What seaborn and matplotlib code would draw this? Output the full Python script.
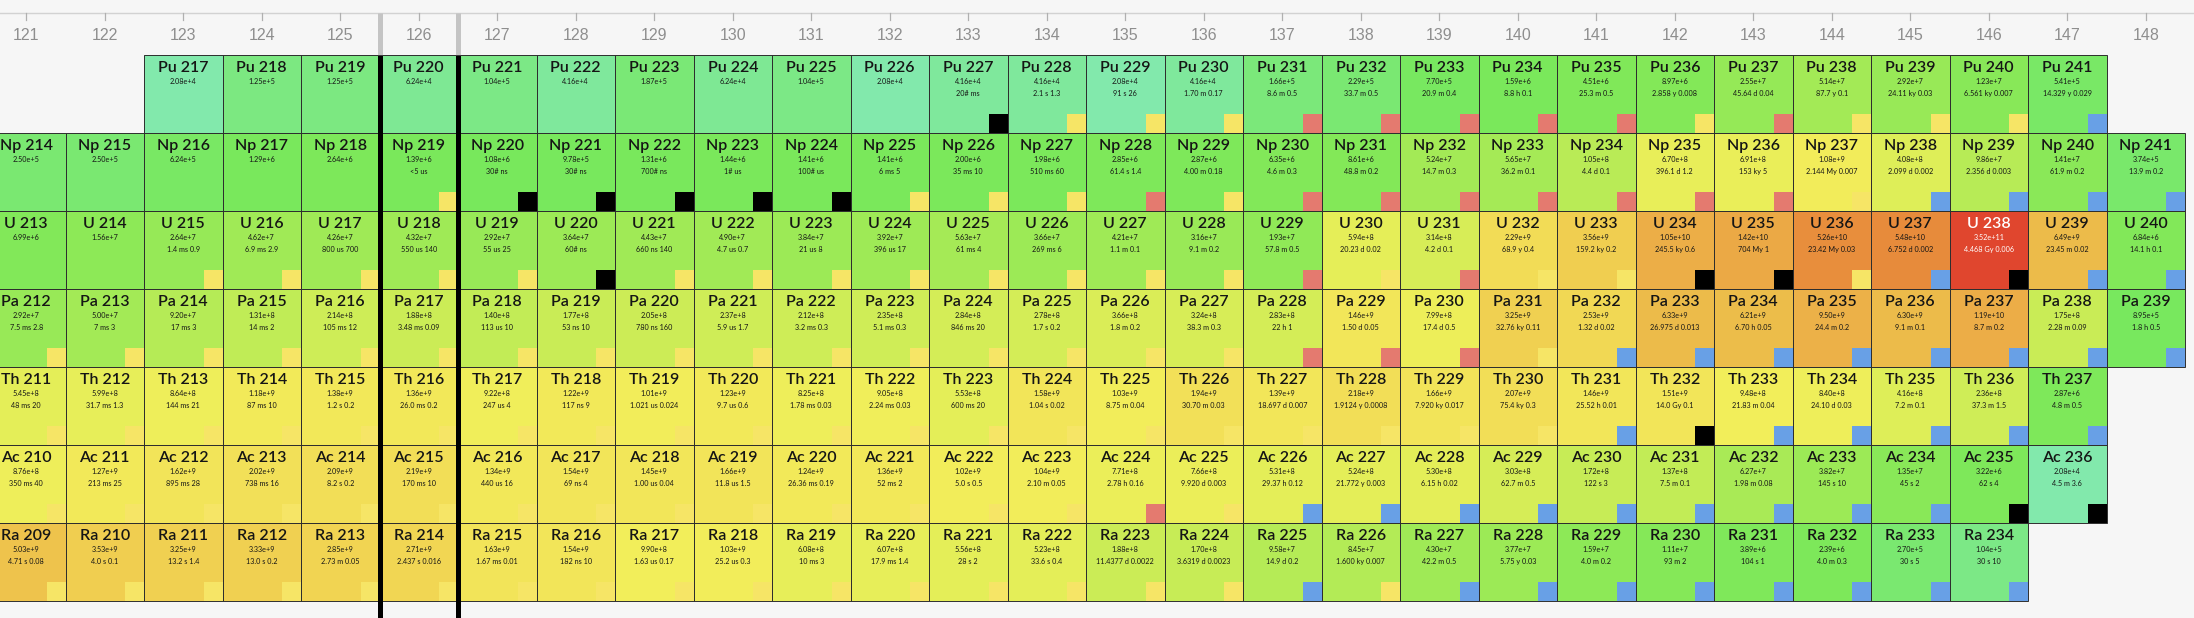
"""
Chart of nuclides section (Ra..Pu, N=121..148) drawn as a seaborn heatmap.
"""
import numpy as np
import pandas as pd
import matplotlib
matplotlib.use("Agg")
import matplotlib.pyplot as plt
from matplotlib.colors import LinearSegmentedColormap, LogNorm
from matplotlib.patches import Rectangle
import seaborn as sns

# ---- data --------------------------------------------------------------
neutron_numbers = list(range(121, 149))

elements = ["Pu", "Np", "U", "Pa", "Th", "Ac", "Ra"]
proton_numbers = [94, 93, 92, 91, 90, 89, 88]
first_n = [123, 121, 121, 121, 121, 121, 121]

pu_values = [2.08e4, 1.25e5, 1.25e5, 6.24e4, 1.04e5, 4.16e4, 1.87e5, 6.24e4, 1.04e5, 2.08e4,
             4.16e4, 4.16e4, 2.08e4, 4.16e4, 1.66e5, 2.29e5, 7.70e5, 1.59e6, 4.51e6, 8.97e6,
             2.55e7, 5.14e7, 2.92e7, 1.23e7, 5.41e5]
pu_halflife = ["", "", "", "", "", "", "", "", "", "",
               "20# ms", "2.1 s 1.3", "91 s 26", "1.70 m 0.17", "8.6 m 0.5", "33.7 m 0.5",
               "20.9 m 0.4", "8.8 h 0.1", "25.3 m 0.5", "2.858 y 0.008", "45.64 d 0.04",
               "87.7 y 0.1", "24.11 ky 0.03", "6.561 ky 0.007", "14.329 y 0.029"]
pu_decay = ["", "", "", "", "", "", "", "", "", "",
            "X", "A", "A", "A", "B+", "B+", "B+", "B+", "B+", "A", "B+", "A", "A", "A", "B-"]

np_values = [2.50e5, 2.50e5, 6.24e5, 1.29e6, 2.64e6, 1.39e6, 1.08e6, 9.78e5, 1.31e6, 1.44e6,
             1.41e6, 1.41e6, 2.00e6, 1.98e6, 2.85e6, 2.87e6, 6.35e6, 8.61e6, 5.24e7, 5.65e7,
             1.05e8, 6.70e8, 6.91e8, 1.08e9, 4.08e8, 9.86e7, 1.41e7, 3.74e5]
np_halflife = ["", "", "", "", "", "<5 us", "30# ns", "30# ns", "700# ns", "1# us",
               "100# us", "6 ms 5", "35 ms 10", "510 ms 60", "61.4 s 1.4", "4.00 m 0.18",
               "4.6 m 0.3", "48.8 m 0.2", "14.7 m 0.3", "36.2 m 0.1", "4.4 d 0.1",
               "396.1 d 1.2", "153 ky 5", "2.144 My 0.007", "2.099 d 0.002", "2.356 d 0.003",
               "61.9 m 0.2", "13.9 m 0.2"]
np_decay = ["", "", "", "", "", "A", "X", "X", "X", "X", "X", "A", "A", "A", "B+", "A",
            "B+", "B+", "B+", "B+", "B+", "B+", "B+", "A", "B-", "B-", "B-", "B-"]

u_values = [6.99e6, 1.56e7, 2.64e7, 4.62e7, 4.26e7, 4.32e7, 2.92e7, 3.64e7, 4.43e7, 4.90e7,
            3.84e7, 3.92e7, 5.63e7, 3.66e7, 4.21e7, 3.16e7, 1.93e7, 5.94e8, 3.14e8, 2.29e9,
            3.56e9, 1.05e10, 1.42e10, 5.26e10, 5.48e10, 3.52e11, 6.49e9, 6.84e6]
u_halflife = ["", "", "1.4 ms 0.9", "6.9 ms 2.9", "800 us 700", "550 us 140", "55 us 25",
              "60# ns", "660 ns 140", "4.7 us 0.7", "21 us 8", "396 us 17", "61 ms 4",
              "269 ms 6", "1.1 m 0.1", "9.1 m 0.2", "57.8 m 0.5", "20.23 d 0.02", "4.2 d 0.1",
              "68.9 y 0.4", "159.2 ky 0.2", "245.5 ky 0.6", "704 My 1", "23.42 My 0.03",
              "6.752 d 0.002", "4.468 Gy 0.006", "23.45 m 0.02", "14.1 h 0.1"]
u_decay = ["", "", "A", "A", "A", "A", "A", "X", "A", "A", "A", "A", "A", "A", "A", "A",
           "B+", "A", "B+", "A", "A", "X", "X", "A", "B-", "X", "B-", "B-"]

pa_values = [2.92e7, 5.00e7, 9.20e7, 1.31e8, 2.14e8, 1.88e8, 1.40e8, 1.77e8, 2.05e8, 2.37e8,
             2.12e8, 2.35e8, 2.84e8, 2.78e8, 3.66e8, 3.24e8, 2.83e8, 1.46e9, 7.99e8, 3.25e9,
             2.53e9, 6.33e9, 6.21e9, 9.50e9, 6.30e9, 1.19e10, 1.75e8, 8.95e5]
pa_halflife = ["7.5 ms 2.8", "7 ms 3", "17 ms 3", "14 ms 2", "105 ms 12", "3.48 ms 0.09",
               "113 us 10", "53 ns 10", "780 ns 160", "5.9 us 1.7", "3.2 ms 0.3", "5.1 ms 0.3",
               "846 ms 20", "1.7 s 0.2", "1.8 m 0.2", "38.3 m 0.3", "22 h 1", "1.50 d 0.05",
               "17.4 d 0.5", "32.76 ky 0.11", "1.32 d 0.02", "26.975 d 0.013", "6.70 h 0.05",
               "24.4 m 0.2", "9.1 m 0.1", "8.7 m 0.2", "2.28 m 0.09", "1.8 h 0.5"]
pa_decay = ["A", "A", "A", "A", "A", "A", "A", "A", "A", "A", "A", "A", "A", "A", "A", "A",
            "B+", "B+", "B+", "A", "B-", "B-", "B-", "B-", "B-", "B-", "B-", "B-"]

th_values = [5.45e8, 5.99e8, 8.64e8, 1.18e9, 1.38e9, 1.36e9, 9.22e8, 1.22e9, 1.01e9, 1.23e9,
             8.25e8, 9.05e8, 5.53e8, 1.58e9, 1.03e9, 1.94e9, 1.39e9, 2.18e9, 1.66e9, 2.07e9,
             1.46e9, 1.51e9, 9.48e8, 8.40e8, 4.16e8, 2.36e8, 2.87e6]
th_halflife = ["48 ms 20", "31.7 ms 1.3", "144 ms 21", "87 ms 10", "1.2 s 0.2", "26.0 ms 0.2",
               "247 us 4", "117 ns 9", "1.021 us 0.024", "9.7 us 0.6", "1.78 ms 0.03",
               "2.24 ms 0.03", "600 ms 20", "1.04 s 0.02", "8.75 m 0.04", "30.70 m 0.03",
               "18.697 d 0.007", "1.9124 y 0.0008", "7.920 ky 0.017", "75.4 ky 0.3",
               "25.52 h 0.01", "14.0 Gy 0.1", "21.83 m 0.04", "24.10 d 0.03", "7.2 m 0.1",
               "37.3 m 1.5", "4.8 m 0.5"]
th_decay = ["A", "A", "A", "A", "A", "A", "A", "A", "A", "A", "A", "A", "A", "A", "A", "A",
            "A", "A", "A", "A", "B-", "X", "B-", "B-", "B-", "B-", "B-"]

ac_values = [8.76e8, 1.27e9, 1.62e9, 2.02e9, 2.09e9, 2.19e9, 1.34e9, 1.54e9, 1.45e9, 1.66e9,
             1.24e9, 1.36e9, 1.02e9, 1.04e9, 7.71e8, 7.66e8, 5.31e8, 5.24e8, 5.30e8, 3.03e8,
             1.72e8, 1.37e8, 6.27e7, 3.82e7, 1.35e7, 3.22e6, 2.08e4]
ac_halflife = ["350 ms 40", "213 ms 25", "895 ms 28", "738 ms 16", "8.2 s 0.2", "170 ms 10",
               "440 us 16", "69 ns 4", "1.00 us 0.04", "11.8 us 1.5", "26.36 ms 0.19",
               "52 ms 2", "5.0 s 0.5", "2.10 m 0.05", "2.78 h 0.16", "9.920 d 0.003",
               "29.37 h 0.12", "21.772 y 0.003", "6.15 h 0.02", "62.7 m 0.5", "122 s 3",
               "7.5 m 0.1", "1.98 m 0.08", "145 s 10", "45 s 2", "62 s 4", "4.5 m 3.6"]
ac_decay = ["A", "A", "A", "A", "A", "A", "A", "A", "A", "A", "A", "A", "A", "A",
            "B+", "A", "B-", "B-", "B-", "B-", "B-", "B-", "B-", "B-", "B-", "X", "X"]

ra_values = [5.03e9, 3.53e9, 3.25e9, 3.33e9, 2.85e9, 2.71e9, 1.63e9, 1.54e9, 9.90e8, 1.03e9,
             6.08e8, 6.07e8, 5.56e8, 5.23e8, 1.88e8, 1.70e8, 9.58e7, 8.45e7, 4.30e7, 3.77e7,
             1.59e7, 1.11e7, 3.89e6, 2.39e6, 2.70e5, 1.04e5]
ra_halflife = ["4.71 s 0.08", "4.0 s 0.1", "13.2 s 1.4", "13.0 s 0.2", "2.73 m 0.05",
               "2.437 s 0.016", "1.67 ms 0.01", "182 ns 10", "1.63 us 0.17", "25.2 us 0.3",
               "10 ms 3", "17.9 ms 1.4", "28 s 2", "33.6 s 0.4", "11.4377 d 0.0022",
               "3.6319 d 0.0023", "14.9 d 0.2", "1.600 ky 0.007", "42.2 m 0.5", "5.75 y 0.03",
               "4.0 m 0.2", "93 m 2", "104 s 1", "4.0 m 0.3", "30 s 5", "30 s 10"]
ra_decay = ["A", "A", "A", "A", "A", "A", "A", "A", "A", "A", "A", "A", "A", "A", "A", "A",
            "B-", "A", "B-", "B-", "B-", "B-", "B-", "B-", "B-", "B-"]

row_values = [pu_values, np_values, u_values, pa_values, th_values, ac_values, ra_values]
row_halflife = [pu_halflife, np_halflife, u_halflife, pa_halflife, th_halflife, ac_halflife, ra_halflife]
row_decay = [pu_decay, np_decay, u_decay, pa_decay, th_decay, ac_decay, ra_decay]

decay_colors = {"A": "#f6e566", "B+": "#e47a6f", "B-": "#68a0e6", "X": "#000000"}
magic_n = 126

# ---- figure ------------------------------------------------------------
W, H = 2194, 618
CELL_W, CELL_H = 78.5, 78.0
LEFT_PX, TOP_PX = -13, 55          # pixel position of the grid's top-left corner
BG = "#f6f6f6"

fig = plt.figure(figsize=(W / 100, H / 100), dpi=100, facecolor=BG)
ax = fig.add_axes([0, 0, 1, 1])
ax.set_facecolor(BG)

grid = pd.DataFrame(np.nan, index=elements, columns=neutron_numbers)
for sym, n0, vals in zip(elements, first_n, row_values):
    grid.loc[sym, n0:n0 + len(vals) - 1] = vals

stops = [(4.3, "#82e9ac"), (4.8, "#7ee893"), (5.3, "#7ae874"), (6.0, "#78e85c"),
         (7.0, "#84e858"), (7.7, "#a2ea56"), (8.2, "#c6ec56"), (8.7, "#e2ee58"),
         (9.0, "#f2ee5a"), (9.3, "#f2e058"), (9.55, "#f0cf50"), (9.8, "#ecbc4a"),
         (10.0, "#ecb048"), (10.7, "#e8903c"), (11.55, "#e0462e")]
lo, hi = stops[0][0], stops[-1][0]
cmap = LinearSegmentedColormap.from_list(
    "halflife", [((p - lo) / (hi - lo), c) for p, c in stops])
cmap.set_bad((0, 0, 0, 0))
norm = LogNorm(vmin=10 ** lo, vmax=10 ** hi)

sns.heatmap(grid, cmap=cmap, norm=norm, cbar=False, linewidths=0,
            mask=grid.isna(), ax=ax)

# cell borders, texts and decay-mode squares
sq = 0.24
for i, (sym, n0, vals, hls, modes) in enumerate(
        zip(elements, first_n, row_values, row_halflife, row_decay)):
    z = proton_numbers[i]
    for k, (v, hl, mode) in enumerate(zip(vals, hls, modes)):
        j = n0 + k - neutron_numbers[0]
        ax.add_patch(Rectangle((j, i), 1, 1, fill=False, edgecolor="#2e2e2e",
                               lw=0.7, zorder=2))
        col = "white" if v > 1e11 else "#151515"
        ax.text(j + 0.5, i + 0.165, f"{sym} {z + n0 + k}", ha="center", va="center",
                fontsize=11.5, fontweight="semibold", color=col, family="Lato")
        ax.text(j + 0.5, i + 0.345, f"{v:.2e}".replace("e+0", "e+"), ha="center",
                va="center", fontsize=5.2, color=col, family="Lato")
        if hl:
            ax.text(j + 0.5, i + 0.49, hl, ha="center", va="center",
                    fontsize=5.2, color=col, family="Lato")
        if mode:
            ax.add_patch(Rectangle((j + 1 - sq, i + 1 - sq), sq, sq,
                                   facecolor=decay_colors[mode], edgecolor="none", zorder=3))


# axis limits in cell units so that the grid lands where the reference has it
def px_x(px):
    return (px - LEFT_PX) / CELL_W


def px_y(py):
    return (py - TOP_PX) / CELL_H


ax.set_xlim(px_x(0), px_x(W))
ax.set_ylim(px_y(H), px_y(0))
ax.set_xticks([])
ax.set_yticks([])
ax.set_xlabel("")
ax.set_ylabel("")
for s in ax.spines.values():
    s.set_visible(False)

# header scale with neutron numbers
ax.plot([px_x(0), px_x(W)], [px_y(13), px_y(13)], color="#d2d2d2", lw=1, zorder=1)
for j, n in enumerate(neutron_numbers):
    ax.plot([j + 0.5, j + 0.5], [px_y(13), px_y(20)], color="#b0b0b0", lw=0.9)
    ax.text(j + 0.5, px_y(36), str(n), ha="center", va="center", fontsize=11.5,
            color="#8e8e8e", family="Liberation Sans")

# magic number N = 126 borders
m = magic_n - neutron_numbers[0]
for x in (m, m + 1):
    ax.plot([x, x], [px_y(13), 0], color="#c4c4c4", lw=3.6, zorder=4, solid_capstyle="butt")
    ax.plot([x, x], [0, px_y(H)], color="black", lw=3.6, zorder=4, solid_capstyle="butt")

fig.savefig("out.png", dpi=100, facecolor=BG)
